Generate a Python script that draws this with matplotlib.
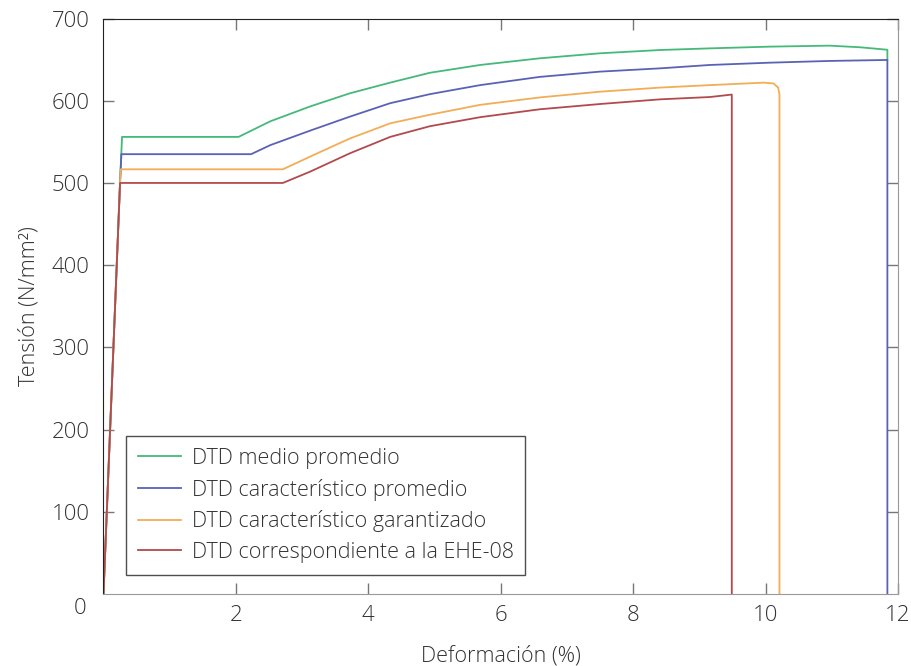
import numpy as np
import matplotlib
matplotlib.use("Agg")
import matplotlib.pyplot as plt

plt.rcParams["font.family"] = ["Open Sans", "DejaVu Sans"]
plt.rcParams["font.weight"] = "light"
plt.rcParams["axes.labelweight"] = "light"

# strain (%) / stress (N/mm2) points for each stress-strain diagram
medio_x = [0, 0.25, 0.28, 2.04, 2.52, 3.12, 3.72, 4.33, 4.93, 5.69, 6.59, 7.50, 8.41,
           9.16, 10.07, 10.97, 11.43, 11.84, 11.84]
medio_y = [0, 500, 556, 556, 575, 593, 609, 622, 634, 643.5, 651.6, 657.7, 661.7,
           663.7, 665.8, 667, 665, 662, 649.6]

caract_x = [0, 0.25, 0.27, 2.23, 2.52, 3.12, 3.72, 4.33, 4.93, 5.69, 6.59, 7.50, 8.41,
            9.16, 10.07, 10.97, 11.84, 11.84]
caract_y = [0, 500, 535, 535, 546, 563.6, 580.6, 597, 608, 619, 629, 635.4, 639.4,
            643.5, 646.3, 648.4, 649.6, 0]

garant_x = [0, 0.25, 0.26, 2.71, 3.12, 3.72, 4.33, 4.93, 5.69, 6.59, 7.50, 8.41,
            9.16, 9.97, 10.12, 10.19, 10.21, 10.21]
garant_y = [0, 500, 516.6, 516.6, 532, 554, 572.5, 583, 595, 604, 611, 616,
            619, 622, 621, 616, 608, 0]

ehe_x = [0, 0.25, 2.71, 3.12, 3.72, 4.33, 4.93, 5.69, 6.59, 7.50, 8.41, 9.16, 9.49, 9.49]
ehe_y = [0, 500, 500, 513.7, 536, 556, 569, 580, 589.6, 596, 601.7, 604.5, 607.5, 0]

labels = [
    "DTD medio promedio",
    "DTD característico promedio",
    "DTD característico garantizado",
    "DTD correspondiente a la EHE-08",
]
colors = ["#45b97a", "#5a62b5", "#f2ad55", "#b24a4d"]

fig = plt.figure(figsize=(9.11, 6.66), dpi=100)
ax = fig.add_axes([0.1136, 0.1081, 0.8721, 0.8641])

series = [(medio_x, medio_y), (caract_x, caract_y), (garant_x, garant_y), (ehe_x, ehe_y)]
for (xs, ys), lab, col in zip(series, labels, colors):
    ax.plot(xs, ys, color=col, lw=1.3, label=lab, solid_joinstyle="round")

ax.set_xlim(0, 12)
ax.set_ylim(0, 700)
ax.set_xticks([2, 4, 6, 8, 10, 12])
ax.set_yticks([100, 200, 300, 400, 500, 600, 700])
ax.tick_params(direction="in", length=8, width=1, color="#777777",
               labelsize=16, labelcolor="#333333", top=True, right=True)
ax.tick_params(axis="x", pad=8)
ax.tick_params(axis="y", pad=10)

ax.spines["left"].set_color("#222222")
ax.spines["top"].set_color("#222222")
ax.spines["right"].set_color("#999999")
ax.spines["bottom"].set_color("#999999")

# shared origin label
ax.text(-0.022, -0.025, "0", transform=ax.transAxes, ha="right", va="center",
        fontsize=16, color="#333333")

ax.set_xlabel("Deformación (%)", fontsize=15.5, color="#333333", labelpad=14)
ax.set_ylabel("Tensión (N/mm²)", fontsize=15.5, color="#333333", labelpad=9)

leg = ax.legend(loc="lower left", bbox_to_anchor=(0.0282, 0.0335), borderaxespad=0,
                fontsize=15.5, frameon=True, fancybox=False, handlelength=2.0,
                handletextpad=0.5, labelspacing=0.45, borderpad=0.55)
leg.get_frame().set_edgecolor("#222222")
leg.get_frame().set_linewidth(1.0)
for t in leg.get_texts():
    t.set_color("#333333")

fig.savefig("out.png", dpi=100)
